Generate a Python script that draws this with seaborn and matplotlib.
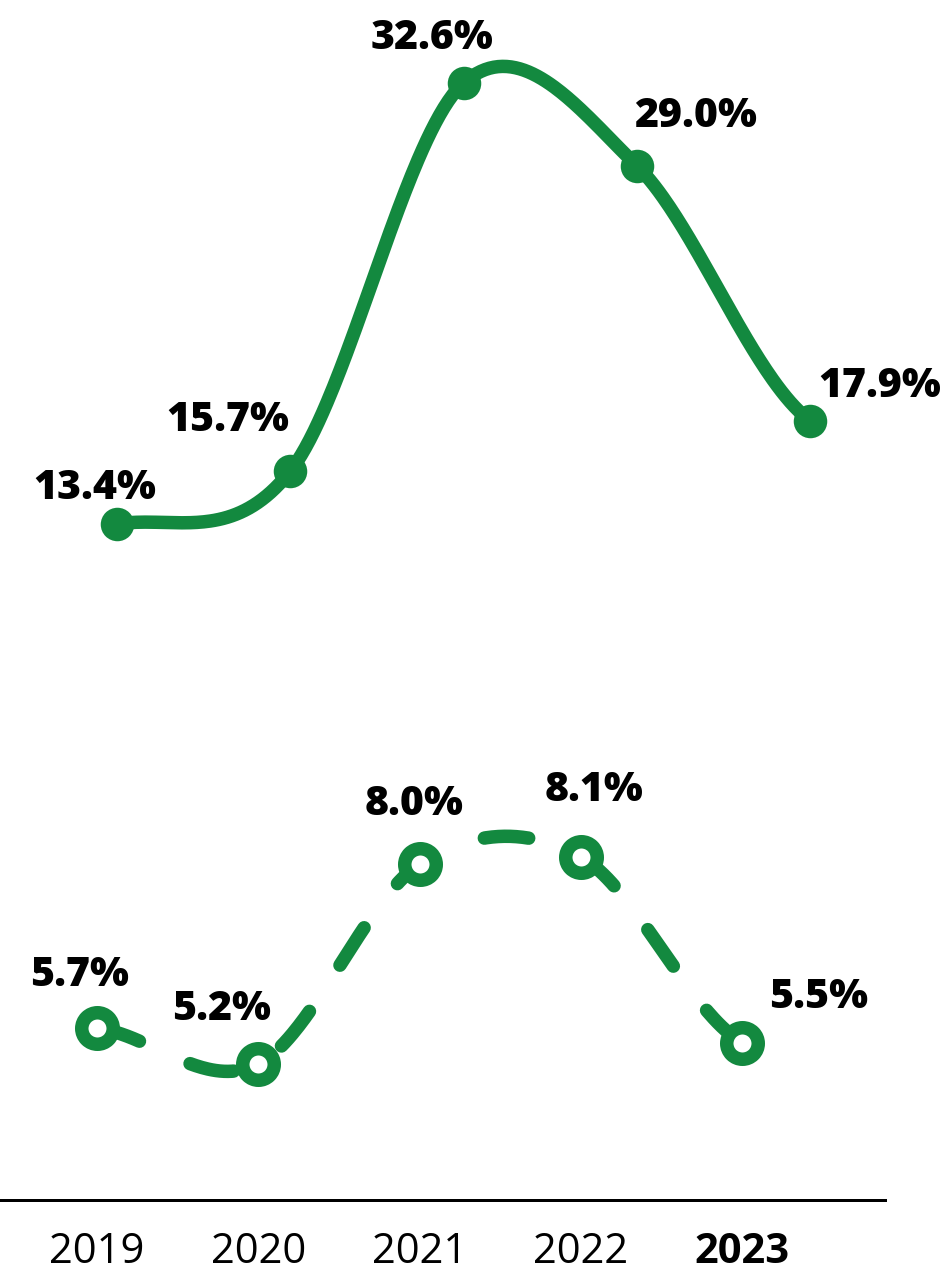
import numpy as np
import pandas as pd
import matplotlib
matplotlib.use("Agg")
import matplotlib.pyplot as plt
from matplotlib import font_manager
import seaborn as sns

# ---- data ----
years = ["2019", "2020", "2021", "2022", "2023"]
upper_values = [13.4, 15.7, 32.6, 29.0, 17.9]
lower_values = [5.7, 5.2, 8.0, 8.1, 5.5]

# ---- style ----
GREEN = "#13893F"
PX = 0.72  # points per pixel at dpi=100
LINE_W = 13.5  # stroke width in pixels

# label offsets from each point (pixels, x right / y up, to the text's visual centre)
upper_label_offsets = [(-22, 40), (-62, 55), (-32, 49), (59, 54), (70, 39)]
lower_label_offsets = [(-18, 57), (-37, 59), (-6, 64), (13, 71), (76, 50)]

sns.set_theme(style="white")
plt.rcParams["font.family"] = ["Open Sans", "DejaVu Sans"]

installed = {f.name for f in font_manager.fontManager.ttflist}
if "Liberation Sans Narrow" in installed:
    YEAR_FONT, YEAR_SIZE, YEAR_CAP = "Liberation Sans Narrow", 33, 33
else:
    YEAR_FONT, YEAR_SIZE, YEAR_CAP = "Open Sans", 30, 30


def catmull_rom(values, n=80):
    """Uniform Catmull-Rom curve through the points, end points duplicated."""
    y = np.asarray(values, dtype=float)
    p = np.concatenate([[y[0]], y, [y[-1]]])
    xs, ys = [], []
    last = len(y) - 2
    for i in range(len(y) - 1):
        p0, p1, p2, p3 = p[i], p[i + 1], p[i + 2], p[i + 3]
        m1 = (p2 - p0) / 2.0
        m2 = (p3 - p1) / 2.0
        t = np.linspace(0, 1, n, endpoint=(i == last))
        h00 = 2 * t**3 - 3 * t**2 + 1
        h10 = t**3 - 2 * t**2 + t
        h01 = -2 * t**3 + 3 * t**2
        h11 = t**3 - t**2
        ys.append(h00 * p1 + h10 * m1 + h01 * p2 + h11 * m2)
        xs.append(i + t)
    return pd.DataFrame({"x": np.concatenate(xs), "y": np.concatenate(ys)})


W, H = 943, 1274
fig = plt.figure(figsize=(W / 100, H / 100), dpi=100)


def rect(left, top, right, bottom):
    return [left / W, 1 - bottom / H, (right - left) / W, (bottom - top) / H]


ax_up = fig.add_axes(rect(0, 0, 943, 620))
ax_lo = fig.add_axes(rect(0, 700, 885, 1200))

idx = np.arange(len(years))

# ---- upper series: solid line, filled markers ----
up_curve = catmull_rom(upper_values)
sns.lineplot(data=up_curve, x="x", y="y", ax=ax_up, sort=False, color=GREEN,
             linewidth=LINE_W * PX, solid_capstyle="round", zorder=2)
sns.scatterplot(x=idx, y=upper_values, ax=ax_up, s=(33.5 * PX) ** 2, color=GREEN,
                linewidth=0, zorder=3)

# ---- lower series: dashed line, ring markers ----
lo_curve = catmull_rom(lower_values)
sns.lineplot(data=lo_curve, x="x", y="y", ax=ax_lo, sort=False, color=GREEN,
             linewidth=LINE_W * PX, linestyle=(0, (3.3, 4.1)),
             dash_capstyle="round", zorder=2)
sns.scatterplot(x=idx, y=lower_values, ax=ax_lo, s=(31.5 * PX) ** 2,
                facecolor="white", edgecolor=GREEN, linewidth=13.5 * PX, zorder=3)

# ---- value labels ----
CAP_HALF = 15  # half the cap height in pixels


def label_points(ax, values, offsets):
    for i, (v, (dx, dy)) in enumerate(zip(values, offsets)):
        ax.annotate(f"{v:.1f}%", xy=(i, v), xytext=(dx * PX, (dy - CAP_HALF) * PX),
                    textcoords="offset points", ha="center", va="baseline",
                    fontsize=29.5, fontweight="heavy", color="black",
                    annotation_clip=False, zorder=4)


label_points(ax_up, upper_values, upper_label_offsets)
label_points(ax_lo, lower_values, lower_label_offsets)

# ---- scales ----
ax_up.set_xlim(-117 / 173.25, (943 - 117) / 173.25)
ax_up.set_ylim(13.4 - (620 - 524) / 22.97, 13.4 + 524 / 22.97)
ax_lo.set_xlim(-97 / 161.3, (885 - 97) / 161.3)
ax_lo.set_ylim(5.2 - (1200 - 1064) / 71.4, 5.2 + (1064 - 700) / 71.4)

for ax in (ax_up, ax_lo):
    ax.set_facecolor("none")
    ax.set_xlabel("")
    ax.set_ylabel("")
    ax.set_yticks([])
    for side in ("top", "right", "left", "bottom"):
        ax.spines[side].set_visible(False)
    for art in ax.get_children():
        art.set_clip_on(False)

ax_up.set_xticks([])

# baseline + year labels on the lower axes
ax_lo.spines["bottom"].set_visible(True)
ax_lo.spines["bottom"].set_color("black")
ax_lo.spines["bottom"].set_linewidth(3 * PX)
ax_lo.set_xticks(idx)
ax_lo.set_xticklabels(years)
# year-label baseline: 63 px below the axis line
ax_lo.tick_params(axis="x", length=0, pad=(33 + YEAR_CAP) * PX)
for lab in ax_lo.get_xticklabels():
    lab.set_fontfamily([YEAR_FONT, "DejaVu Sans"])
    lab.set_fontsize(YEAR_SIZE)
    lab.set_color("black")
    lab.set_va("baseline")
    if lab.get_text() == years[-1]:
        lab.set_fontweight("bold")

fig.savefig("out.png", dpi=100, facecolor="white")
